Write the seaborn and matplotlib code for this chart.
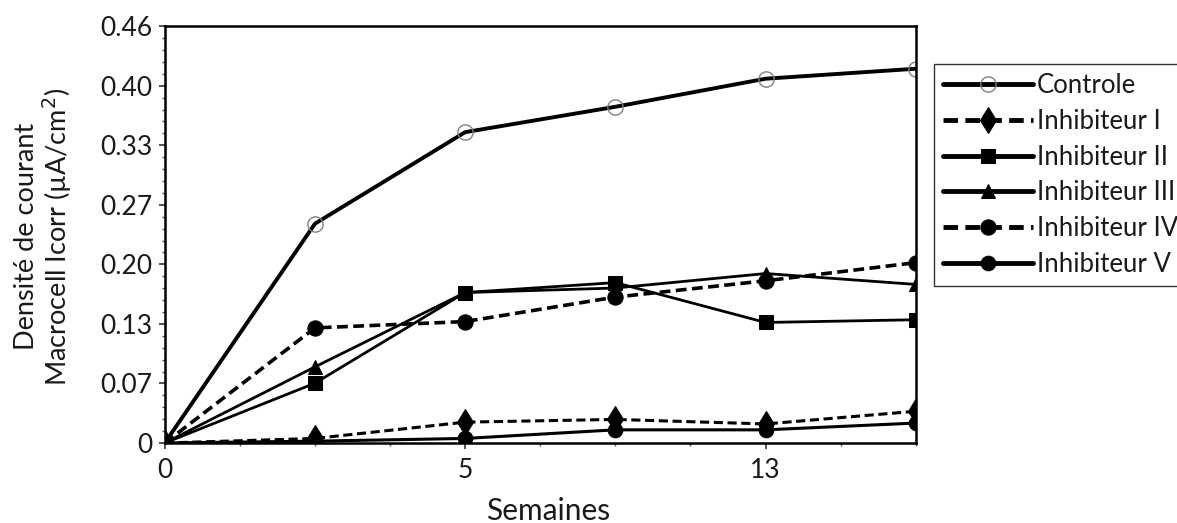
import matplotlib
matplotlib.use("Agg")
import matplotlib.pyplot as plt
from matplotlib.ticker import FixedLocator, MultipleLocator, AutoMinorLocator
import seaborn as sns
import numpy as np

# ---- data ----
x_index = [0, 1, 2, 3, 4, 5]
x_tick_pos = [0, 2, 4]
x_tick_labels = ["0", "5", "13"]
y_tick_labels = ["0", "0.07", "0.13", "0.20", "0.27", "0.33", "0.40", "0.46"]

controle = [0.0, 0.242, 0.343, 0.371, 0.402, 0.413]
inhib_1 = [0.0, 0.005, 0.023, 0.026, 0.021, 0.035]
inhib_2 = [0.0, 0.066, 0.166, 0.177, 0.133, 0.136]
inhib_3 = [0.0, 0.084, 0.166, 0.171, 0.187, 0.175]
inhib_4 = [0.0, 0.127, 0.134, 0.161, 0.179, 0.199]
inhib_5 = [0.0, 0.002, 0.005, 0.0145, 0.0145, 0.022]

names = ["Controle", "Inhibiteur I", "Inhibiteur II", "Inhibiteur III",
         "Inhibiteur IV", "Inhibiteur V"]
series = [controle, inhib_1, inhib_2, inhib_3, inhib_4, inhib_5]

sns.set_theme(style="white")
plt.rcParams['font.family'] = ['Lato', 'DejaVu Sans']
text_color = "#1a1a1a"

fig = plt.figure(figsize=(11.77, 5.23), dpi=100)
ax = fig.add_axes([0.140, 0.153, 0.638, 0.797])

styles = [
    dict(marker='o', ms=11, mfc='none', mec='#808080', mew=1.0, ls='-', lw=2.8),
    dict(marker='d', ms=13, mfc='black', mec='black', ls=(0, (3, 1.5)), lw=2.2),
    dict(marker='s', ms=10.5, mfc='black', mec='black', ls='-', lw=2.0),
    dict(marker='^', ms=10.5, mfc='black', mec='black', ls='-', lw=2.0),
    dict(marker='o', ms=11, mfc='black', mec='black', ls=(0, (3, 1.5)), lw=2.6),
    dict(marker='o', ms=10.5, mfc='black', mec='black', ls='-', lw=2.2),
]

for name, vals, st in zip(names, series, styles):
    st = dict(st)
    ls = st.pop('ls')
    sns.lineplot(x=x_index, y=vals, ax=ax, color='black', linestyle=ls,
                 label=name, **st)

ax.set_xlim(0, 5)
ax.set_ylim(0, 0.46)
ax.xaxis.set_major_locator(FixedLocator(x_tick_pos))
ax.set_xticklabels(x_tick_labels)
ax.xaxis.set_minor_locator(MultipleLocator(0.5))
yt = np.linspace(0, 0.46, 8)
ax.set_yticks(yt)
ax.set_yticklabels(y_tick_labels)
ax.yaxis.set_minor_locator(AutoMinorLocator(5))

ax.tick_params(axis='both', which='major', direction='out', length=4, width=1.2,
               colors='#333333', labelcolor=text_color, labelsize=19)
ax.tick_params(axis='y', which='major', pad=5)
ax.tick_params(axis='x', which='major', pad=7)
ax.tick_params(axis='both', which='minor', direction='out', length=2.5, width=1.0,
               colors='#555555')
ax.tick_params(axis='x', which='both', bottom=True)
ax.tick_params(axis='y', which='both', left=True)

for sp in ax.spines.values():
    sp.set_color('black')
    sp.set_linewidth(1.8)
    sp.set_visible(True)

ax.set_xlabel("Semaines", fontsize=21.5, color=text_color, va='center')
ax.xaxis.set_label_coords(0.51, -0.162)
ax.set_ylabel("Densité de courant\nMacrocell Icorr (µA/cm$^2$)", fontsize=19.5,
              color=text_color, linespacing=1.05, va='center', ha='center')
ax.yaxis.set_label_coords(-0.161, 0.495)

leg = ax.legend(loc='upper left', bbox_to_anchor=(1.024, 0.909), frameon=True,
                fancybox=False, edgecolor='black', fontsize=18.5,
                handlelength=3.5, handletextpad=0.16, borderpad=0.35,
                labelspacing=0.42, borderaxespad=0.0, labelcolor=text_color)
leg.get_frame().set_linewidth(1.0)
for h in leg.get_lines():
    h.set_linewidth(3.5)

fig.savefig("out.png", dpi=100)
